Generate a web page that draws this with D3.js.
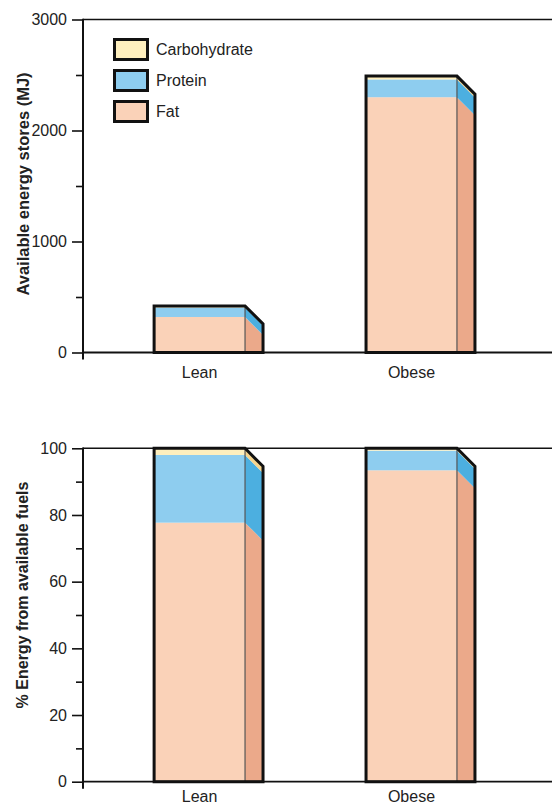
<!DOCTYPE html>
<html>
<head>
<meta charset="utf-8">
<script src="https://cdn.jsdelivr.net/npm/d3@7"></script>
<style>
  html, body { margin: 0; padding: 0; background: #fff; }
  svg { display: block; font-family: "Liberation Sans", Arial, sans-serif; }
</style>
</head>
<body>
<svg id="chart" width="552" height="807"></svg>
<script>
// ---------- data ----------
const categories = ["Lean", "Obese"];
const fuels = ["Carbohydrate", "Protein", "Fat"];
// available energy stores (MJ)
const storesFat = [320, 2300];
const storesProtein = [85, 160];
const storesCarb = [15, 30];
// % energy from available fuels
const pctFat = [77.7, 93.4];
const pctProtein = [20.3, 5.9];
const pctCarb = [2.0, 0.7];
// axis ticks
const storesTicks = [0, 1000, 2000, 3000];
const storesMinor = [500, 1500, 2500];
const pctTicks = [0, 20, 40, 60, 80, 100];
const pctMinor = [10, 30, 50, 70, 90];

// ---------- style ----------
const frontColor = { Carbohydrate: "#FEEFBE", Protein: "#8ECDEF", Fat: "#FAD2B8" };
const sideColor  = { Carbohydrate: "#F6D48E", Protein: "#4CAFE0", Fat: "#EBA98A" };
const depth = 18;
const axisX = 83;
const rightX = 552;

const svg = d3.select("#chart");

const x = d3.scaleBand()
  .domain(categories)
  .range([axisX, rightX])
  .paddingInner(0.571)
  .paddingOuter(0.392)
  .align(0.428);

function stackRows(fat, protein, carb) {
  return categories.map((c, i) => ({ cat: c, Fat: fat[i], Protein: protein[i], Carbohydrate: carb[i] }));
}

function drawPanel(opts) {
  const { y, rows, ticks, minor, title, titleX, titleY, labelDy, titleSize } = opts;
  const g = svg.append("g");
  const base = y(0);
  const top = y.range()[1];

  const order = ["Fat", "Protein", "Carbohydrate"];
  const stack = d3.stack().keys(order)(rows);

  // bars
  rows.forEach((row, i) => {
    const x0 = x(row.cat), x1 = x0 + x.bandwidth();
    const bg = g.append("g");
    stack.forEach(layer => {
      const key = layer.key;
      const v0 = layer[i][0], v1 = layer[i][1];
      const yb = y(v0), yt = y(v1);
      // front
      bg.append("rect")
        .attr("x", x0).attr("y", yt)
        .attr("width", x.bandwidth()).attr("height", yb - yt)
        .attr("fill", frontColor[key]);
      // side
      const pts = [
        [x1, yt],
        [x1 + depth, Math.min(base, yt + depth)],
        [x1 + depth, Math.min(base, yb + depth)],
        [x1, yb]
      ];
      bg.append("polygon")
        .attr("points", pts.map(p => p.join(",")).join(" "))
        .attr("fill", sideColor[key]);
    });
    const total = stack[stack.length - 1][i][1];
    const yt = y(total);
    // divider
    bg.append("line")
      .attr("x1", x1).attr("x2", x1)
      .attr("y1", yt).attr("y2", base)
      .attr("stroke", "#555").attr("stroke-width", 1.2);
    // outline
    bg.append("path")
      .attr("d", `M${x0},${base} L${x0},${yt} L${x1},${yt} L${x1 + depth},${yt + depth} L${x1 + depth},${base} Z`)
      .attr("fill", "none").attr("stroke", "#111").attr("stroke-width", 3)
      .attr("stroke-linejoin", "miter");
  });

  // top frame line & baseline
  g.append("line").attr("x1", axisX).attr("x2", rightX).attr("y1", top).attr("y2", top)
    .attr("stroke", "#111").attr("stroke-width", 1.6);
  g.append("line").attr("x1", axisX).attr("x2", rightX).attr("y1", base).attr("y2", base)
    .attr("stroke", "#111").attr("stroke-width", 1.8);

  // y axis
  const ax = g.append("g").attr("transform", `translate(${axisX},0)`)
    .call(d3.axisLeft(y).tickValues(ticks).tickSize(11).tickPadding(5).tickFormat(d3.format("d")));
  ax.select(".domain").remove();
  ax.selectAll(".tick line").attr("stroke", "#111").attr("stroke-width", 1.6);
  ax.selectAll(".tick text").attr("font-size", 16).attr("fill", "#222")
    .attr("font-family", "'Liberation Sans', Arial, sans-serif");
  const axm = g.append("g").attr("transform", `translate(${axisX},0)`)
    .call(d3.axisLeft(y).tickValues(minor).tickSize(7).tickFormat(""));
  axm.select(".domain").remove();
  axm.selectAll(".tick line").attr("stroke", "#111").attr("stroke-width", 1.6);
  g.append("line").attr("x1", axisX).attr("x2", axisX).attr("y1", top - 0.8).attr("y2", base + 7)
    .attr("stroke", "#111").attr("stroke-width", 2);

  // x labels
  g.selectAll(".xl").data(categories).enter().append("text")
    .attr("x", d => x(d) + x.bandwidth() / 2)
    .attr("y", base + labelDy)
    .attr("text-anchor", "middle")
    .attr("font-size", 16).attr("fill", "#222")
    .text(d => d);

  // title
  g.append("text")
    .attr("transform", `translate(${titleX},${titleY}) rotate(-90)`)
    .attr("text-anchor", "middle")
    .attr("font-size", titleSize).attr("font-weight", "bold").attr("fill", "#222")
    .text(title);
}

// top panel
const yStores = d3.scaleLinear().domain([0, 3000]).range([352.5, 19.5]);
drawPanel({
  y: yStores,
  rows: stackRows(storesFat, storesProtein, storesCarb),
  ticks: storesTicks, minor: storesMinor,
  title: "Available energy stores (MJ)", titleX: 29, titleY: 184, labelDy: 25, titleSize: 16.5
});

// bottom panel
const yPct = d3.scaleLinear().domain([0, 100]).range([781.7, 448.3]);
drawPanel({
  y: yPct,
  rows: stackRows(pctFat, pctProtein, pctCarb),
  ticks: pctTicks, minor: pctMinor,
  title: "% Energy from available fuels", titleX: 28, titleY: 595, labelDy: 20.5, titleSize: 16
});

// legend
const legend = svg.append("g");
fuels.forEach((f, i) => {
  const ly = 38 + i * 31;
  legend.append("rect")
    .attr("x", 114.5).attr("y", ly + 1.5)
    .attr("width", 33).attr("height", 20)
    .attr("fill", frontColor[f]).attr("stroke", "#111").attr("stroke-width", 3);
  legend.append("text")
    .attr("x", 156).attr("y", ly + 17)
    .attr("font-size", 16).attr("fill", "#222")
    .text(f);
});
</script>
</body>
</html>
